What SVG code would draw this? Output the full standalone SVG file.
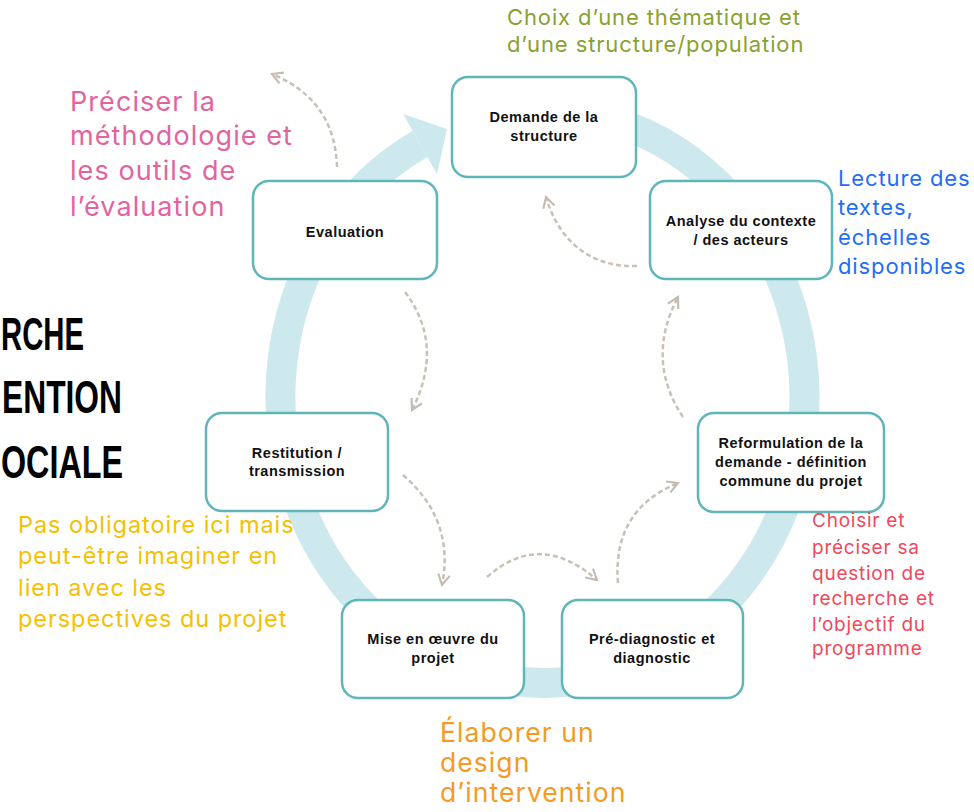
<svg xmlns="http://www.w3.org/2000/svg" width="974" height="812" viewBox="0 0 974 812">
<defs>
<style>
.box rect{fill:#fff;stroke:#5fb6b9;stroke-width:2.5}
.box text{font-family:"Liberation Sans",Arial,sans-serif;font-weight:bold;font-size:14.5px;letter-spacing:0.5px;fill:#111;text-anchor:middle}
.conn path{fill:none;stroke:#c9c0b6;stroke-width:2.5;stroke-dasharray:5 3}
.note{font-family:Inter,"DejaVu Sans",sans-serif;letter-spacing:0.04em}
.title{font-family:"Liberation Sans",Arial,sans-serif;font-weight:bold;font-size:46px;fill:#000}
</style>
<marker id="ah" viewBox="0 0 12 12" refX="10" refY="6" markerWidth="14" markerHeight="14" markerUnits="userSpaceOnUse" orient="auto">
<path d="M1,1 L10,6 L1,11" fill="none" stroke="#c4bbb1" stroke-width="1.8" stroke-dasharray="none"/>
</marker>
</defs>
<rect width="974" height="812" fill="#fff"/>
<g id="ring">
<path d="M470,122 A262,286 0 1 1 420,144" fill="none" stroke="#cde9ee" stroke-width="30"/>
<polygon points="403,114 447,129 437,174" fill="#cde9ee"/>
</g>
<g id="title">
<text class="title" x="1" y="350" textLength="83" lengthAdjust="spacingAndGlyphs">RCHE</text>
<text class="title" x="2" y="413" textLength="120" lengthAdjust="spacingAndGlyphs">ENTION</text>
<text class="title" x="1" y="478" textLength="122" lengthAdjust="spacingAndGlyphs">OCIALE</text>
</g>
<g class="conn" id="connectors">
<path d="M337,167 Q335,100 272,74" marker-end="url(#ah)"/>
<path d="M637,266 C595,268 560,245 546,197" marker-end="url(#ah)"/>
<path d="M683,417 Q645,360 678,297" marker-end="url(#ah)"/>
<path d="M618,583 Q612,510 678,483" marker-end="url(#ah)"/>
<path d="M487,577 Q540,530 597,580" marker-end="url(#ah)"/>
<path d="M403,475 Q455,520 442,585" marker-end="url(#ah)"/>
<path d="M405,292 Q445,345 412,410" marker-end="url(#ah)"/>
</g>
<g class="box" id="n-demande"><rect x="452" y="77" width="184" height="100" rx="16"/><text x="544" y="122">Demande de la</text><text x="544" y="141">structure</text></g>
<g class="box" id="n-analyse"><rect x="650" y="181" width="182" height="98" rx="16"/><text x="741" y="226">Analyse du contexte</text><text x="741" y="245">/ des acteurs</text></g>
<g class="box" id="n-evaluation"><rect x="253" y="181" width="184" height="98" rx="16"/><text x="345" y="237">Evaluation</text></g>
<g class="box" id="n-restitution"><rect x="206" y="413" width="182" height="98" rx="16"/><text x="297" y="458">Restitution /</text><text x="297" y="476">transmission</text></g>
<g class="box" id="n-reformulation"><rect x="698" y="413" width="186" height="99" rx="16"/><text x="791" y="448">Reformulation de la</text><text x="791" y="467">demande - définition</text><text x="791" y="486">commune du projet</text></g>
<g class="box" id="n-mise"><rect x="342" y="600" width="182" height="98" rx="16"/><text x="433" y="644">Mise en œuvre du</text><text x="433" y="663">projet</text></g>
<g class="box" id="n-prediag"><rect x="562" y="600" width="181" height="98" rx="16"/><text x="652" y="644">Pré-diagnostic et</text><text x="652" y="663">diagnostic</text></g>
<g id="notes">
<text class="note" font-size="22" fill="#89a133"><tspan x="507" y="25">Choix d’une thématique et</tspan><tspan x="507" y="52">d’une structure/population</tspan></text>
<text class="note" font-size="27" fill="#e2649f"><tspan x="70" y="111">Préciser la</tspan><tspan x="70" y="145">méthodologie et</tspan><tspan x="70" y="180">les outils de</tspan><tspan x="70" y="216">l’évaluation</tspan></text>
<text class="note" font-size="22" fill="#1f6ef5"><tspan x="838" y="186">Lecture des</tspan><tspan x="838" y="215">textes,</tspan><tspan x="838" y="245">échelles</tspan><tspan x="838" y="274">disponibles</tspan></text>
<text class="note" font-size="23.5" fill="#f6c000"><tspan x="18" y="533">Pas obligatoire ici mais</tspan><tspan x="18" y="564">peut-être imaginer en</tspan><tspan x="18" y="596">lien avec les</tspan><tspan x="18" y="627">perspectives du projet</tspan></text>
<text class="note" font-size="19" fill="#f0485c"><tspan x="812" y="527">Choisir et</tspan><tspan x="812" y="554">préciser sa</tspan><tspan x="812" y="580">question de</tspan><tspan x="812" y="605">recherche et</tspan><tspan x="812" y="631">l’objectif du</tspan><tspan x="812" y="655">programme</tspan></text>
<text class="note" font-size="26.5" fill="#f59a23"><tspan x="440" y="742">Élaborer un</tspan><tspan x="440" y="772">design</tspan><tspan x="440" y="802">d’intervention</tspan></text>
</g>
</svg>
